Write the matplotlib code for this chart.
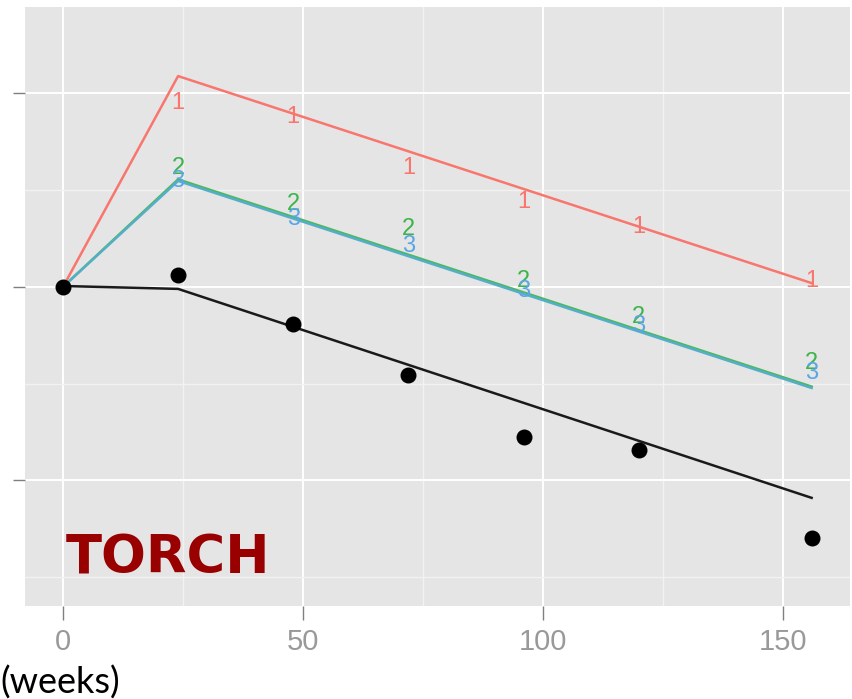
import numpy as np
import matplotlib.pyplot as plt

plt.rcParams['font.family'] = ['Liberation Sans', 'DejaVu Sans']

# time points (weeks)
weeks = [0, 24, 48, 72, 96, 120, 156]

# observed group means shown as labels
grp1_obs = [0, 95, 88, 61.5, 44, 31, 3]
grp2_obs = [0, 61.5, 43, 30, 3, -15.5, -39.5]
grp3_obs = [0, 55, 35, 21.2, -2, -20, -44.5]
# black points
black_obs = [0, 6, -19, -45.5, -77.5, -84.5, -130]

# fitted piecewise lines (knots)
fit_weeks = [0, 24, 156]
fit1 = [0, 109, 2]
fit2 = [0, 55.6, -51.5]
fit3 = [0, 54.8, -52.2]
fit_black = [0.5, -1, -109]

col1 = '#F8766D'
col2 = '#3CB44A'
col3 = '#5AA5E6'

fig = plt.figure(figsize=(8.52, 6.99), dpi=100)
ax = fig.add_axes([25 / 852, 1 - 606 / 699, 825 / 852, 599 / 699])
ax.set_facecolor('#E5E5E5')

ax.plot(fit_weeks, fit1, color=col1, lw=1.8, zorder=3)
ax.plot(fit_weeks, fit2, color='#4CB85A', lw=1.8, zorder=3)
ax.plot(fit_weeks, fit3, color='#55AEC8', lw=1.8, zorder=3)
ax.plot(fit_weeks, fit_black, color='#1a1a1a', lw=1.8, zorder=3)
ax.scatter(weeks, black_obs, s=110, color='black', zorder=4)

for w, v in zip(weeks, grp1_obs):
    if w > 0:
        ax.text(w, v, '1', color=col1, fontsize=17, ha='center', va='center', zorder=5)
for w, v in zip(weeks, grp2_obs):
    if w > 0:
        ax.text(w, v, '2', color=col2, fontsize=17, ha='center', va='center', zorder=5)
for w, v in zip(weeks, grp3_obs):
    if w > 0:
        ax.text(w, v, '3', color=col3, fontsize=17, ha='center', va='center', zorder=5)

ax.set_xlim(-7.9, 164)
ax.set_ylim(-164.9, 144.7)
ax.set_xticks([0, 50, 100, 150])
ax.set_xticks([25, 75, 125], minor=True)
ax.set_yticks([-100, 0, 100])
ax.set_yticks([-150, -50, 50], minor=True)
ax.set_yticklabels([])
ax.grid(which='major', color='white', lw=1.4)
ax.grid(which='minor', color='#F2F2F2', lw=1.0)
ax.set_axisbelow(True)
for s in ax.spines.values():
    s.set_visible(False)
ax.tick_params(axis='x', which='major', length=10, width=1, color='#7F7F7F',
               labelsize=21, labelcolor='#999999', pad=6)
ax.tick_params(axis='y', which='major', length=9, width=1, color='#7F7F7F')
ax.tick_params(which='minor', length=0)

ax.text(0.6, -148.3, 'TORCH', color='#990000', fontsize=38, fontweight='bold',
        family='DejaVu Sans', ha='left', va='baseline')

fig.text(0, 1 - 683 / 699, '(weeks)', fontsize=26, family='Lato',
         ha='left', va='center', color='black')

fig.savefig('out.png', dpi=100)
